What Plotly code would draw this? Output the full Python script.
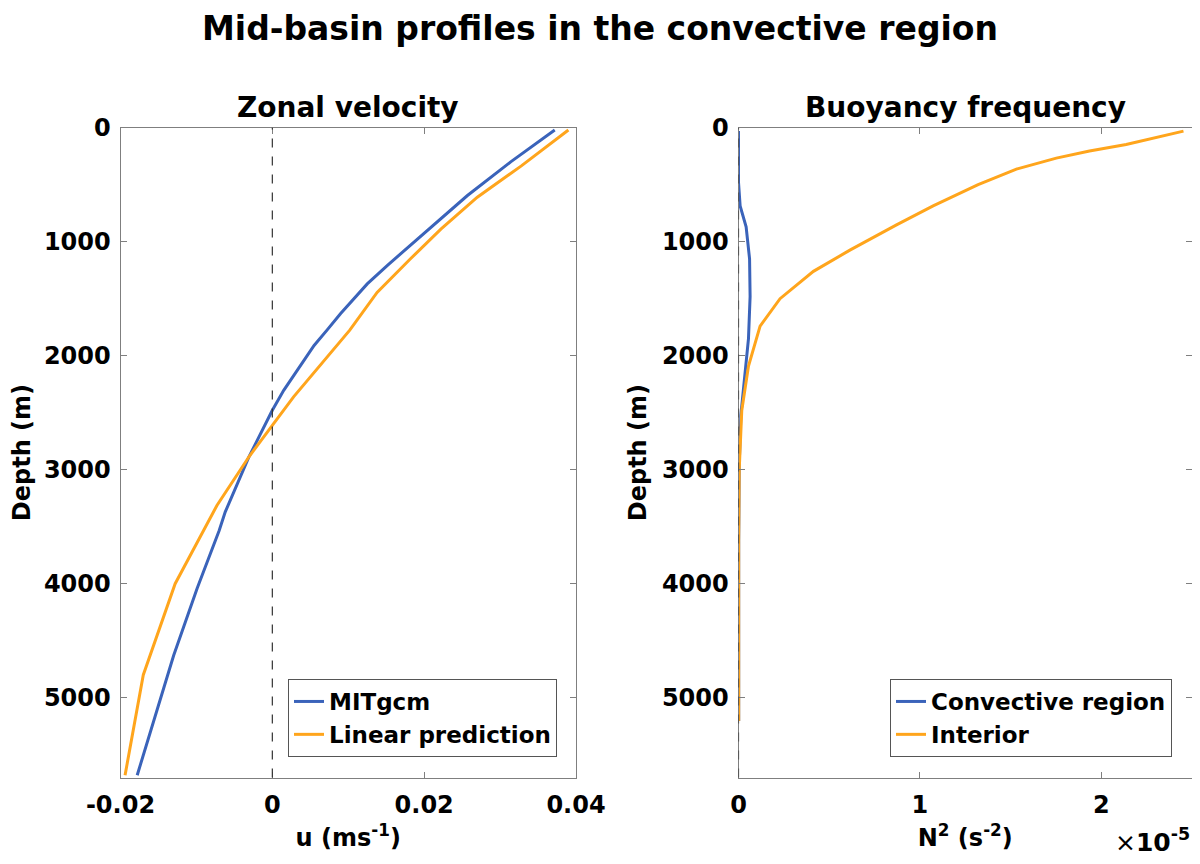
import plotly.graph_objects as go

# ---------------- data ----------------
depth_mitgcm = [20, 300, 595, 925, 1205, 1370, 1630, 1776, 1910, 2304, 2479, 2889, 3370, 3533, 4040, 4630, 5680]
u_mitgcm = [0.0372, 0.0314, 0.0257, 0.0200, 0.0152, 0.0125, 0.0090, 0.0072, 0.0055, 0.0015, 0.0000,
            -0.0031, -0.0062, -0.0070, -0.0099, -0.0130, -0.0178]

depth_linear = [20, 335, 610, 890, 1150, 1445, 1776, 2361, 2611, 2889, 3314, 4000, 4800, 5680]
u_linear = [0.0390, 0.0328, 0.0270, 0.0222, 0.0182, 0.0138, 0.0102, 0.0028, 0.0000, -0.0031,
            -0.0073, -0.0128, -0.0170, -0.0194]

# N^2 in units of 1e-5 s^-2
depth_interior = [30, 74, 148, 204, 267, 363, 500, 686, 852, 1074, 1260, 1500, 1740, 2090, 2480, 3000, 3630, 5205]
n2_interior = [2.453, 2.339, 2.137, 1.935, 1.752, 1.532, 1.321, 1.073, 0.871, 0.614, 0.413, 0.229,
               0.119, 0.055, 0.018, 0.004, 0.001, 0.001]

depth_convective = [30, 480, 686, 870, 1150, 1480, 1850, 2220, 2520, 2960, 3630, 5205]
n2_convective = [0.0, 0.0, 0.009, 0.042, 0.061, 0.064, 0.055, 0.031, 0.013, 0.004, 0.001, 0.001]

u_ticks = [-0.02, 0, 0.02, 0.04]
u_ticktext = ["-0.02", "0", "0.02", "0.04"]
n2_ticks = [0, 1, 2]
depth_ticks = [0, 1000, 2000, 3000, 4000, 5000]

BLUE = "#3A63BA"
ORANGE = "#FFA51C"
FONT = "DejaVu Sans"
AX = "#7f7f7f"

# figure is drawn inside the page's 8px body margin
W, H, OFF = 1184, 848, 8


def px(x):
    return (x - OFF) / W


def py(y):
    return 1 - (y - OFF) / H


fig = go.Figure()

fig.add_trace(go.Scatter(x=u_mitgcm, y=depth_mitgcm, mode="lines", name="MITgcm",
                         line=dict(color=BLUE, width=3), xaxis="x", yaxis="y", legend="legend"))
fig.add_trace(go.Scatter(x=u_linear, y=depth_linear, mode="lines", name="Linear prediction",
                         line=dict(color=ORANGE, width=3), xaxis="x", yaxis="y", legend="legend"))
fig.add_trace(go.Scatter(x=n2_convective, y=depth_convective, mode="lines", name="Convective region",
                         line=dict(color=BLUE, width=3), xaxis="x2", yaxis="y2", legend="legend2"))
fig.add_trace(go.Scatter(x=n2_interior, y=depth_interior, mode="lines", name="Interior",
                         line=dict(color=ORANGE, width=3), xaxis="x2", yaxis="y2", legend="legend2"))

# zero reference lines
for xr, yr in (("x", "y"), ("x2", "y2")):
    fig.add_shape(type="line", xref=xr, yref=f"{yr} domain", x0=0, x1=0, y0=0, y1=1,
                  line=dict(color="#333333", width=1.2, dash="dash"), layer="above")

tickfont = dict(family=FONT, size=24, color="black", weight="bold")
titlefont = dict(family=FONT, size=24, color="black", weight="bold")
subtitlefont = dict(family=FONT, size=28, color="black", weight="bold")
legendfont = dict(family=FONT, size=23, color="black", weight="bold")

common_axis = dict(showgrid=False, zeroline=False, showline=True, linecolor=AX, linewidth=1,
                   mirror="ticks", ticks="inside", ticklen=6, tickcolor=AX, tickfont=tickfont,
                   automargin=False)

XL = [px(120.5), px(576)]
XR = [px(738.5), 1.0]
YD = [py(777.5), py(127.7)]

fig.update_layout(
    width=W, height=H,
    margin=dict(l=0, r=0, t=0, b=0, autoexpand=False),
    paper_bgcolor="white", plot_bgcolor="white",
    xaxis=dict(domain=XL, range=[-0.02, 0.04], tickvals=u_ticks, ticktext=u_ticktext,
               title=dict(text="u (ms<sup>-1</sup>)", font=titlefont, standoff=10),
               ticklabelstandoff=6, anchor="y", **common_axis),
    yaxis=dict(domain=YD, range=[5700, 0], tickvals=depth_ticks,
               title=dict(text="Depth (m)", font=titlefont, standoff=8),
               ticklabelstandoff=4, anchor="x", **common_axis),
    xaxis2=dict(domain=XR, range=[0, 2.5], tickvals=n2_ticks,
                title=dict(text="N<sup>2</sup> (s<sup>-2</sup>)", font=titlefont, standoff=10),
                ticklabelstandoff=6, anchor="y2", **common_axis),
    yaxis2=dict(domain=YD, range=[5700, 0], tickvals=depth_ticks,
                title=dict(text="Depth (m)", font=titlefont, standoff=8),
                ticklabelstandoff=4, anchor="x2", **common_axis),
    legend=dict(x=px(557), y=py(757), xanchor="right", yanchor="bottom",
                bgcolor="white", bordercolor="#555555", borderwidth=1,
                font=legendfont, itemwidth=30, tracegroupgap=0),
    legend2=dict(x=px(1172), y=py(757), xanchor="right", yanchor="bottom",
                 bgcolor="white", bordercolor="#555555", borderwidth=1,
                 font=legendfont, itemwidth=30, tracegroupgap=0),
    showlegend=True,
)

annotations = [
    dict(text="Mid-basin profiles in the convective region", x=px(600), y=1.0,
         xref="paper", yref="paper", xanchor="center", yanchor="top", borderpad=0, showarrow=False,
         font=dict(family=FONT, size=33, color="black", weight="bold")),
    dict(text="Zonal velocity", x=sum(XL) / 2, y=YD[1], xref="paper", yref="paper",
         xanchor="center", yanchor="bottom", yshift=2, showarrow=False, font=subtitlefont),
    dict(text="Buoyancy frequency", x=sum(XR) / 2, y=YD[1], xref="paper", yref="paper",
         xanchor="center", yanchor="bottom", yshift=2, showarrow=False, font=subtitlefont),
    dict(text="<span style='font-weight:normal'>×</span>10<sup>-5</sup>", x=XR[1], y=py(840),
         xref="paper", yref="paper", xanchor="right", yanchor="middle", showarrow=False,
         font=dict(family=FONT, size=25, color="black", weight="bold")),
]
fig.update_layout(annotations=annotations)

fig.write_html("out.html")
